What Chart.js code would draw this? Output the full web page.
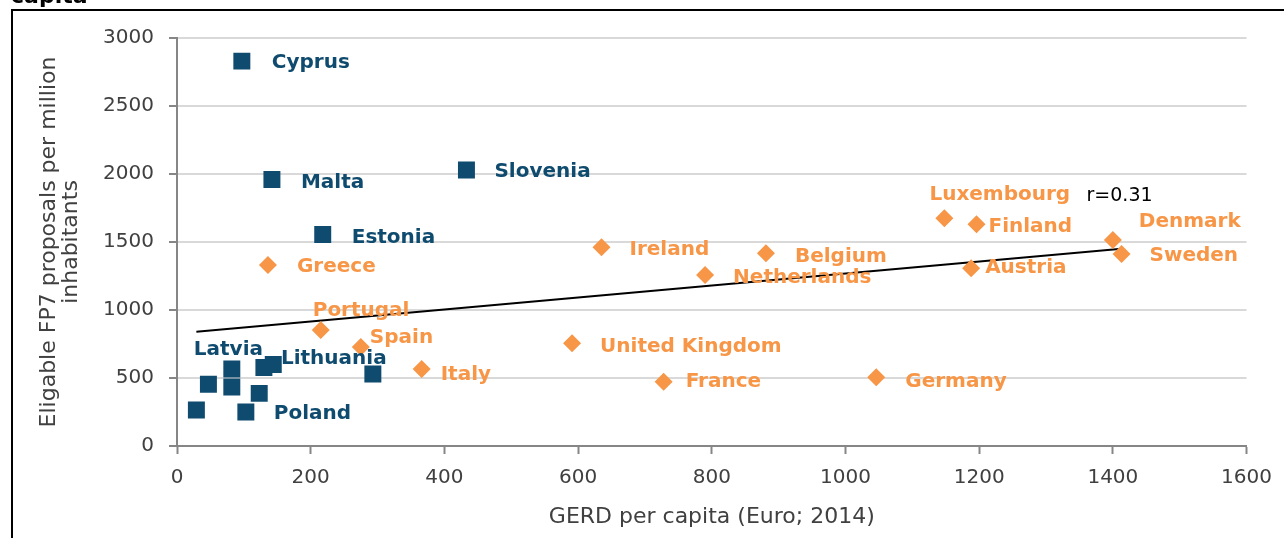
<!DOCTYPE html>
<html><head><meta charset="utf-8">
<script src="https://cdn.jsdelivr.net/npm/chart.js@4/dist/chart.umd.min.js"></script>
<style>
html,body{margin:0;padding:0;background:#fff;overflow:hidden;width:1284px;height:538px;}
#wrap{position:relative;width:1284px;height:538px;}
#c{position:absolute;left:0;top:0;}
#frame{position:absolute;left:11px;top:9px;width:1300px;height:560px;border:2px solid #000;pointer-events:none;}
#ttl{position:absolute;left:11px;top:-15px;font:bold 22px/22px "DejaVu Sans",sans-serif;color:#000;white-space:nowrap;}
</style></head>
<body><div id="wrap">
<canvas id="c" width="1284" height="538"></canvas>
<div id="frame"></div>
<div id="ttl">capita</div>
</div>
<script>
// EU-13 (blue squares)
const blueNames = ['Cyprus','Malta','Slovenia','Estonia','Latvia','Croatia','Romania','Bulgaria','Poland','Slovakia','Lithuania','Hungary','Czech Republic'];
const blueX = [97,142,433,218,82,82,29,47,103,123,130,144,293];
const blueY = [2830,1960,2030,1555,566,434,265,454,250,387,578,600,530];
// EU-15 (orange diamonds)
const orangeNames = ['Greece','Portugal','Spain','Italy','Ireland','Belgium','Netherlands','United Kingdom','France','Germany','Luxembourg','Finland','Denmark','Sweden','Austria'];
const orangeX = [136,215,275,366,635,881,790,591,728,1046,1148,1196,1400,1413,1188];
const orangeY = [1330,853,728,566,1461,1417,1257,755,473,505,1674,1630,1515,1412,1307];
// trend line end points
const trendX = [29,1413];
const trendY = [840,1450];
const corrLabel = 'r=0.31';
const xTitle = 'GERD per capita (Euro; 2014)';
const yTitle = ['Eligable FP7 proposals per million','inhabitants'];

// label placement (pixel offsets from marker; only labelled points)
const labelOffsets = {
  'Cyprus':[30,2],'Malta':[29,3],'Slovenia':[28,2],'Estonia':[29,3],'Latvia':[-38,-19],
  'Lithuania':[17,-9],'Poland':[28,2],
  'Greece':[29,2],'Portugal':[-8,-19],'Spain':[9,-9],'Italy':[19,6],'Ireland':[28,2],
  'Belgium':[29,4],'Netherlands':[28,3],'United Kingdom':[28,3],'France':[22,0],
  'Germany':[29,4],'Luxembourg':[-15,-24],'Finland':[12,2],'Denmark':[26,-18],
  'Sweden':[28,2],'Austria':[14,0]
};
const BLUE = '#0f4b6e', ORANGE = '#f79646';
const FONT = '"DejaVu Sans",sans-serif';

const toPts = (xs, ys) => xs.map((x,i)=>({x, y: ys[i]}));

const labelPlugin = {
  id:'labels',
  afterDatasetsDraw(chart){
    const ctx = chart.ctx;
    ctx.save();
    ctx.font = 'bold 20px ' + FONT;
    ctx.textAlign = 'left';
    ctx.textBaseline = 'middle';
    [[0, blueNames, BLUE],[1, orangeNames, ORANGE]].forEach(([di, names, col])=>{
      const meta = chart.getDatasetMeta(di);
      names.forEach((n,i)=>{
        const off = labelOffsets[n];
        if(!off) return;
        const el = meta.data[i];
        ctx.fillStyle = col;
        ctx.fillText(n, el.x + off[0], el.y + off[1]);
      });
    });
    const tm = chart.getDatasetMeta(2).data;
    const end = tm[tm.length-1];
    ctx.font = '19px ' + FONT;
    ctx.fillStyle = '#000';
    ctx.fillText(corrLabel, end.x - 35, end.y - 53);
    ctx.restore();
  }
};

new Chart(document.getElementById('c'), {
  type:'scatter',
  data:{datasets:[
    {data: toPts(blueX, blueY), pointStyle:'rect', pointRadius:12, pointHoverRadius:12, backgroundColor:BLUE, borderColor:BLUE, borderWidth:0},
    {data: toPts(orangeX, orangeY), pointStyle:'rectRot', pointRadius:9, pointHoverRadius:9, backgroundColor:ORANGE, borderColor:ORANGE, borderWidth:0},
    {type:'line', data: toPts(trendX, trendY), showLine:true, pointRadius:0, borderColor:'#000', borderWidth:2, fill:false}
  ]},
  options:{
    responsive:false, animation:false,
    layout:{padding:{left:0, top:38, right:37, bottom:0}},
    plugins:{legend:{display:false}, tooltip:{enabled:false}},
    scales:{
      x:{type:'linear', min:0, max:1600,
        ticks:{stepSize:200, color:'#404040', font:{family:FONT, size:20}, padding:12, callback:v=>String(v)},
        grid:{drawOnChartArea:false, drawTicks:true, tickLength:8, tickColor:'#868686', tickWidth:2},
        border:{color:'#868686', width:2},
        title:{display:true, text:xTitle, color:'#404040', font:{family:FONT, size:22, lineHeight:1.2}, padding:{top:0,bottom:8}},
        afterFit(s){ s.height = 92; }
      },
      y:{type:'linear', min:0, max:3000,
        ticks:{stepSize:500, color:'#404040', font:{family:FONT, size:20}, padding:15, callback:v=>String(v)},
        grid:{color:'#d9d9d9', lineWidth:2, tickLength:8, tickColor:'#868686', tickWidth:2},
        border:{color:'#868686', width:2},
        title:{display:true, text:yTitle, color:'#404040', font:{family:FONT, size:22, lineHeight:1.0}, padding:{top:38,bottom:0}},
        afterFit(s){ s.width = 177; }
      }
    }
  },
  plugins:[labelPlugin]
});
</script>
</body></html>
